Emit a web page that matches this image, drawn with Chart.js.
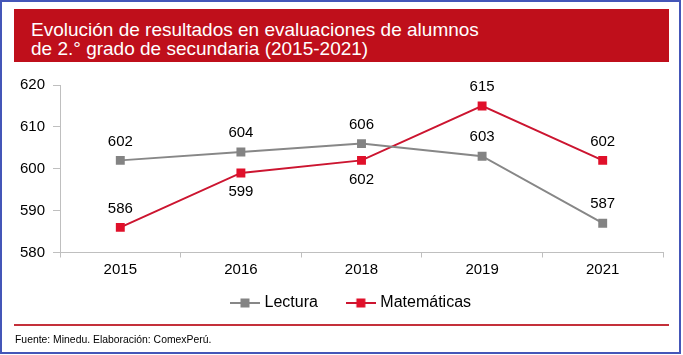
<!DOCTYPE html>
<html><head><meta charset="utf-8">
<script src="https://cdn.jsdelivr.net/npm/chart.js@4/dist/chart.umd.min.js"></script>
<style>
html,body{margin:0;padding:0;background:#fff;}
#wrap{position:relative;width:683px;height:355px;font-family:"Liberation Sans",Arial,sans-serif;}
#frame{position:absolute;left:0;top:0;width:677px;height:350px;border:2px solid #4456b8;}
#hdr{position:absolute;left:14px;top:9px;width:655px;height:53px;background:#bf0f1b;color:#fff;font-size:19px;line-height:19px;box-sizing:border-box;padding:11px 0 0 17px;}
#cv{position:absolute;left:0;top:60px;}
#rule{position:absolute;left:14px;top:324px;width:655px;height:2px;background:#c4303a;}
#src{position:absolute;left:15px;top:334px;font-size:10.4px;color:#000;}
</style></head>
<body>
<div id="wrap">
<div id="frame"></div>
<canvas id="cv" width="683" height="279"></canvas>
<div id="hdr">Evolución de resultados en evaluaciones de alumnos<br>de 2.° grado de secundaria (2015-2021)</div>
<div id="rule"></div>
<div id="src">Fuente: Minedu. Elaboración: ComexPerú.</div>
</div>
<script>
const categories = ["2015","2016","2018","2019","2021"];
const lectura = [602, 604, 606, 603, 587];
const matematicas = [586, 599, 602, 615, 602];
const lecturaLabelPos = ["above","above","above","above","above"];
const matematicasLabelPos = ["above","below","below","above","above"];
const yTicks = [580, 590, 600, 610, 620];

function legendIcon(lineColor, boxColor){
  const c = document.createElement('canvas');
  c.width = 30; c.height = 10;
  const x = c.getContext('2d');
  x.strokeStyle = lineColor; x.lineWidth = 2;
  x.beginPath(); x.moveTo(0,5); x.lineTo(30,5); x.stroke();
  x.fillStyle = boxColor; x.fillRect(10.5,0.5,9,9);
  return c;
}
const grayLine = '#878787', grayPt = '#838383';
const redLine = '#cc1530', redPt = '#e0102a';
const FONT = '"Liberation Sans", Arial, sans-serif';
const LEGEND_TEXT_Y = 243;   // canvas y of legend text centre
const LEGEND_ICON_X = 230;   // canvas x where first legend icon begins

const labelPlugin = {
  id:'valLabels',
  afterDatasetsDraw(chart){
    const ctx = chart.ctx;
    ctx.save();
    ctx.font = '15px ' + FONT;
    ctx.fillStyle = '#000';
    ctx.textAlign = 'center';
    ctx.textBaseline = 'middle';
    const posArr = [lecturaLabelPos, matematicasLabelPos];
    chart.data.datasets.forEach((ds, di) => {
      const meta = chart.getDatasetMeta(di);
      meta.data.forEach((pt, i) => {
        const dy = posArr[di][i] === 'above' ? -19 : 19;
        ctx.fillText(String(ds.data[i]), pt.x, pt.y + dy);
      });
    });
    ctx.restore();
  }
};

const legendShift = {
  id:'legendShift',
  afterLayout(chart){
    const lg = chart.legend;
    if (!lg) return;
    const pad = lg.options.labels.padding;
    const fs = lg.options.labels.font.size;
    const dy = (LEGEND_TEXT_Y - fs/2 - pad) - lg.top;
    lg.top += dy; lg.bottom += dy;
    const ctx = chart.ctx;
    ctx.save(); ctx.font = fs + 'px ' + FONT;
    const bw = lg.options.labels.pointStyleWidth;
    let total = 0;
    lg.legendItems.forEach(it => { total += bw + fs/2 + ctx.measureText(it.text).width + pad; });
    ctx.restore();
    const startX = (lg.left + pad + lg.right - total) / 2;
    const iconStart = startX + bw/2 - 15;
    const dx = LEGEND_ICON_X - iconStart;
    lg.left += dx; lg.right += dx;
  }
};

new Chart(document.getElementById('cv'), {
  type:'line',
  data:{
    labels: categories,
    datasets:[
      {label:'Lectura', data: lectura, borderColor: grayLine, backgroundColor: grayPt, borderWidth:2,
       pointStyle:'rect', pointRadius:6.3, pointBackgroundColor: grayPt, pointBorderWidth:0, tension:0,
       legendIcon: legendIcon(grayLine, grayPt)},
      {label:'Matemáticas', data: matematicas, borderColor: redLine, backgroundColor: redPt, borderWidth:2,
       pointStyle:'rect', pointRadius:6.3, pointBackgroundColor: redPt, pointBorderWidth:0, tension:0,
       legendIcon: legendIcon(redLine, redPt)}
    ]
  },
  options:{
    responsive:false, animation:false,
    layout:{padding:{left:0,right:20,top:25,bottom:0}},
    plugins:{
      tooltip:{enabled:false},
      legend:{
        position:'bottom',
        labels:{
          usePointStyle:true, pointStyleWidth:23, padding:31.5,
          color:'#000',
          font:{family:FONT, size:16},
          generateLabels(chart){
            return chart.data.datasets.map((ds,i)=>({
              text: ds.label, pointStyle: ds.legendIcon, fillStyle: ds.backgroundColor,
              strokeStyle: ds.borderColor, lineWidth:0, datasetIndex:i, hidden:false, fontColor:'#000'
            }));
          }
        }
      }
    },
    scales:{
      x:{
        offset:true,
        grid:{display:true, drawOnChartArea:false, offset:true, tickLength:5, color:'#bfbfbf'},
        border:{color:'#bfbfbf', width:1},
        ticks:{color:'#000', font:{family:FONT, size:15}, padding:3}
      },
      y:{
        min:580, max:620,
        afterFit(s){ s.width = 60; },
        afterBuildTicks(s){ s.ticks = yTicks.map(v=>({value:v})); },
        grid:{display:true, drawOnChartArea:false, tickLength:7, color:'#bfbfbf'},
        border:{color:'#bfbfbf', width:1},
        ticks:{color:'#000', font:{family:FONT, size:15}, padding:8}
      }
    }
  },
  plugins:[labelPlugin, legendShift]
});
</script>
</body></html>
